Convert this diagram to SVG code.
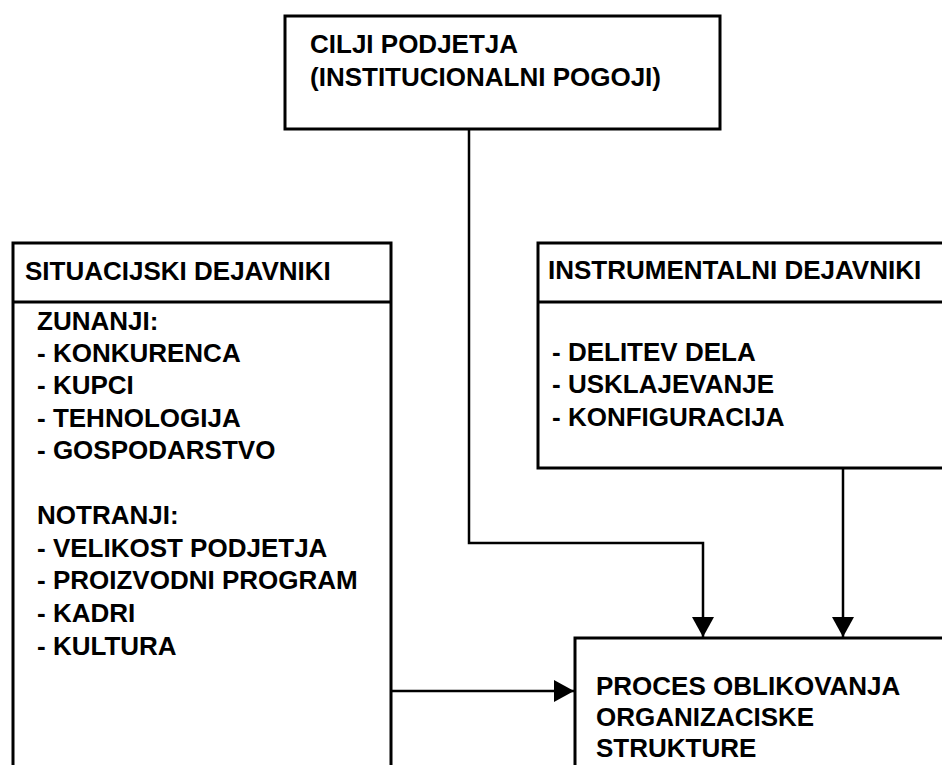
<svg xmlns="http://www.w3.org/2000/svg" width="942" height="765" viewBox="0 0 942 765">
<style>
.box{fill:#fff;stroke:#000;stroke-width:3}
.ln{fill:none;stroke:#000;stroke-width:2.5}
text{font-family:"Liberation Sans",Arial,sans-serif;font-size:26px;font-weight:bold;fill:#000}
</style>
<defs>
<marker id="ah" markerWidth="22" markerHeight="22" refX="20" refY="11" orient="auto" markerUnits="userSpaceOnUse">
<path d="M0,0 L20,11 L0,22 Z" fill="#000"/>
</marker>
</defs>
<rect width="942" height="765" fill="#fff"/>
<g id="cilji">
<rect class="box" x="285" y="16" width="435" height="113"/>
<text x="310" y="53">CILJI PODJETJA</text>
<text x="310" y="86">(INSTITUCIONALNI POGOJI)</text>
</g>
<g id="situacijski">
<rect class="box" x="13" y="243" width="378" height="540"/>
<line class="box" x1="13" y1="302" x2="391" y2="302"/>
<text x="25" y="280">SITUACIJSKI DEJAVNIKI</text>
<text x="37" y="330">ZUNANJI:</text>
<text x="37" y="362">- KONKURENCA</text>
<text x="37" y="394">- KUPCI</text>
<text x="37" y="427">- TEHNOLOGIJA</text>
<text x="37" y="459">- GOSPODARSTVO</text>
<text x="37" y="524">NOTRANJI:</text>
<text x="37" y="557">- VELIKOST PODJETJA</text>
<text x="37" y="589">- PROIZVODNI PROGRAM</text>
<text x="37" y="622">- KADRI</text>
<text x="37" y="655">- KULTURA</text>
</g>
<g id="instrumentalni">
<rect class="box" x="538" y="243" width="420" height="225"/>
<line class="box" x1="538" y1="302" x2="958" y2="302"/>
<text x="548" y="279">INSTRUMENTALNI DEJAVNIKI</text>
<text x="552" y="361">- DELITEV DELA</text>
<text x="552" y="393">- USKLAJEVANJE</text>
<text x="552" y="426">- KONFIGURACIJA</text>
</g>
<g id="proces">
<rect class="box" x="575" y="638" width="380" height="140"/>
<text x="596" y="695">PROCES OBLIKOVANJA</text>
<text x="596" y="726">ORGANIZACISKE</text>
<text x="596" y="757">STRUKTURE</text>
</g>
<g id="connectors">
<path class="ln" d="M469,129 V543 H703 V637" marker-end="url(#ah)"/>
<path class="ln" d="M843,468 V637" marker-end="url(#ah)"/>
<path class="ln" d="M391,691 H574" marker-end="url(#ah)"/>
</g>
</svg>
